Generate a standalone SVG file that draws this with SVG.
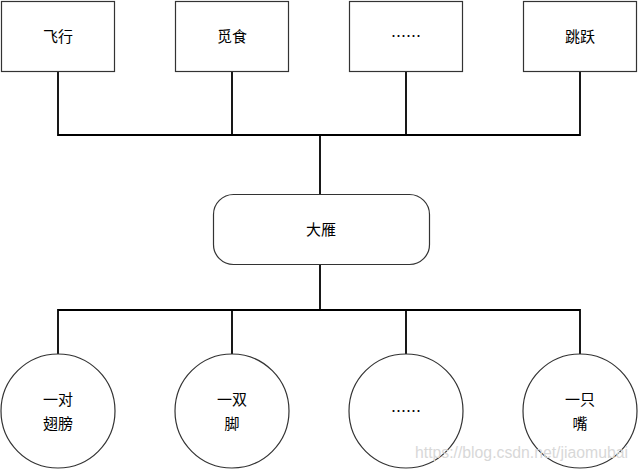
<svg xmlns="http://www.w3.org/2000/svg" width="638" height="469" viewBox="0 0 638 469">
<style>
.box{fill:#fff;stroke:#333;stroke-width:1.2}
.t{font-family:"Noto Sans CJK SC","Noto Sans CJK JP",sans-serif;font-size:15px;fill:#000;text-anchor:middle;dominant-baseline:central}
.c{fill:none;stroke:#000;stroke-width:1.8}
</style>
<rect width="638" height="469" fill="#fff"/>
<g id="connectors" class="c">
<path d="M58,71V135H580V71M232,71V135M406,71V135M320,135V194"/>
<path d="M320,264V310M58,354V310H580V354M232,310V354M406,310V354"/>
</g>
<g id="n1"><rect class="box" x="1.5" y="1.5" width="113" height="70"/><text class="t" x="58" y="35">飞行</text></g>
<g id="n2"><rect class="box" x="175.5" y="1.5" width="113" height="70"/><text class="t" x="232" y="35">觅食</text></g>
<g id="n3"><rect class="box" x="349.5" y="1.5" width="113" height="70"/><text class="t" x="406" y="35">……</text></g>
<g id="n4"><rect class="box" x="523.5" y="1.5" width="113" height="70"/><text class="t" x="580" y="35">跳跃</text></g>
<g id="center"><rect class="box" x="213.5" y="194.5" width="216" height="70" rx="20"/><text class="t" x="321" y="228">大雁</text></g>
<g id="c1"><circle class="box" cx="58" cy="411" r="57"/><text class="t" x="58" y="398">一对</text><text class="t" x="58" y="422">翅膀</text></g>
<g id="c2"><circle class="box" cx="232" cy="411" r="57"/><text class="t" x="232" y="398">一双</text><text class="t" x="232" y="422">脚</text></g>
<g id="c3"><circle class="box" cx="406" cy="411" r="57"/><text class="t" x="406" y="410">……</text></g>
<g id="c4"><circle class="box" cx="580" cy="411" r="57"/><text class="t" x="580" y="398">一只</text><text class="t" x="580" y="422">嘴</text></g>
<text x="415" y="458" font-family="Liberation Sans, Arial, sans-serif" font-size="16" fill="#d8d8d8" textLength="213" lengthAdjust="spacingAndGlyphs">https://blog.csdn.net/jiaomubai</text>
</svg>
